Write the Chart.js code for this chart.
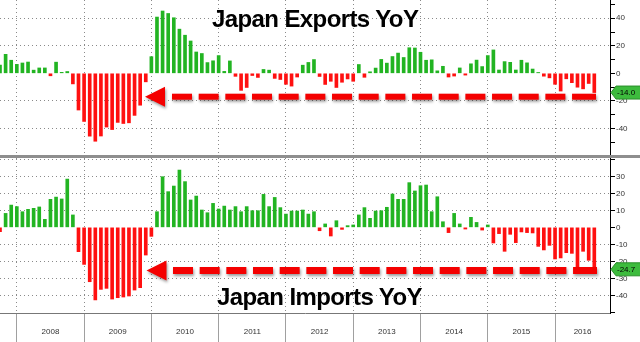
<!DOCTYPE html>
<html>
<head>
<meta charset="utf-8">
<script src="https://cdn.jsdelivr.net/npm/chart.js@4.4.1/dist/chart.umd.min.js"></script>
<style>
html, body { margin: 0; padding: 0; background: #fff; }
#wrap { position: relative; width: 640px; height: 342px; overflow: hidden; background: #fff; }
#topChart { position: absolute; left: 0; top: 0; }
#sep { position: absolute; left: 0; top: 155px; width: 640px; height: 3px; background: #8e8e8e; }
#botChart { position: absolute; left: 0; top: 158px; }
.title { position: absolute; font-family: "Liberation Sans", Arial, sans-serif; font-weight: bold;
         font-size: 24px; letter-spacing: -0.6px; color: #000; white-space: nowrap; line-height: 1; }
</style>
</head>
<body>
<div id="wrap">
  <canvas id="topChart" width="640" height="155"></canvas>
  <div id="sep"></div>
  <canvas id="botChart" width="640" height="184"></canvas>
  <div class="title" style="left:212px; top:7px;">Japan Exports YoY</div>
  <div class="title" style="left:217px; top:285px;">Japan Imports YoY</div>
</div>
<script>
// 月度数据：从 2007-09 开始，到 2016-07 结束（同比 %）
const exportsYoY = [
  6.0, 13.8, 9.5, 6.5,
  7.5, 8.2, 2.3, 3.9, 3.9, -1.8, 8.1, 0.7, 1.3, -7.7, -26.7, -35.0,
  -45.7, -49.4, -45.6, -39.1, -40.9, -35.7, -36.5, -36.0, -30.6, -23.2, -6.2, 12.1,
  40.9, 45.3, 43.5, 40.4, 32.1, 27.7, 23.5, 15.5, 14.4, 7.8, 9.1, 12.9,
  1.4, 9.0, -2.2, -12.4, -10.3, -1.6, -3.0, 2.8, 2.3, -3.7, -4.5, -8.0,
  -9.3, -2.7, 5.9, 7.9, 10.0, -2.3, -8.1, -5.8, -10.3, -6.5, -4.1, -5.8,
  6.4, -2.9, 1.1, 3.8, 10.1, 7.4, 12.2, 14.7, 11.5, 18.6, 18.4, 15.3,
  9.5, 9.8, 1.8, 5.1, -2.7, -2.0, 3.9, -1.3, 6.9, 9.6, 4.9, 12.9,
  17.0, 2.4, 8.5, 8.0, 2.4, 9.5, 7.6, 3.1, 0.6, -2.1, -3.3, -8.0,
  -12.9, -4.0, -6.8, -10.1, -11.3, -7.4, -14.0
];
const importsYoY = [
  -2.5, 8.2, 13.1, 12.2,
  9.2, 10.6, 11.2, 12.0, 4.7, 16.5, 17.8, 16.7, 28.4, 7.3, -14.3, -21.8,
  -32.0, -42.7, -36.5, -35.9, -42.2, -41.4, -41.0, -40.4, -36.9, -35.5, -16.3, -5.3,
  9.2, 29.8, 21.0, 24.3, 33.7, 26.9, 16.1, 18.4, 10.2, 8.6, 14.1, 10.8,
  12.5, 10.2, 12.2, 9.2, 12.2, 9.8, 9.8, 19.4, 12.2, 17.6, 11.6, 7.8,
  9.6, 9.6, 10.2, 7.8, 9.2, -2.0, 2.0, -5.1, 3.9, -1.2, 1.0, 1.4,
  7.3, 11.6, 5.3, 9.6, 9.8, 11.8, 19.6, 16.5, 16.5, 26.3, 21.4, 24.5,
  24.9, 9.2, 18.0, 3.3, -3.1, 8.2, 2.0, -1.0, 5.9, 2.9, -1.6, 1.4,
  -9.2, -3.7, -14.1, -4.1, -9.0, -2.7, -3.1, -3.3, -11.2, -13.3, -10.6, -18.6,
  -18.0, -14.9, -15.3, -23.3, -14.1, -19.4, -24.7
];
const years = ['2008', '2009', '2010', '2011', '2012', '2013', '2014', '2015', '2016'];
const yearEdges = [3, 15, 27, 39, 51, 63, 75, 87, 99];   // 每年1月前的月末位置

// 右侧坐标轴刻度
const topTicks = [-50, -40, -30, -20, -10, 0, 10, 20, 30, 40, 50];
const topLabels = [-40, -20, 0, 20, 40];
const topGrid = [-40, -20, 20, 40];
const botTicks = [-50, -45, -40, -35, -30, -25, -20, -15, -10, -5, 0, 5, 10, 15, 20, 25, 30, 35, 40];
const botLabels = [-40, -30, -20, -10, 0, 10, 20, 30];
const botGrid = [-40, -30, -20, -10, 10, 20, 30, 40];

const X_MAX = 108.8;
const GREEN = '#22b422';
const RED = '#ff1010';
const FONT = '"Liberation Sans", Arial, sans-serif';
const yearMids = yearEdges.map((e, i) => i < yearEdges.length - 1 ? e + 6 : (e + X_MAX) / 2);

function toPoints(arr) {
    return arr.map((v, i) => ({ x: i, y: v }));
}

// 红色虚线箭头 + 最新值绿色标签
function panelDecor(opts) {
    return {
        id: 'panelDecor',
        afterDraw(chart) {
            const ctx = chart.ctx;
            const yScale = chart.scales.y;
            ctx.save();
            ctx.shadowColor = 'rgba(0,0,0,0.4)';
            ctx.shadowBlur = 3;
            ctx.shadowOffsetX = 1;
            ctx.shadowOffsetY = 2;
            ctx.fillStyle = '#f40000';
            const y = opts.arrowY;
            for (let x = opts.dashStart; x < opts.dashEnd; x += 26.67) {
                const w = (x + 26.67 >= opts.dashEnd) ? opts.dashEnd - x : 20;
                ctx.fillRect(x, y - opts.thick / 2, w, opts.thick);
            }
            ctx.beginPath();
            ctx.moveTo(opts.tipX, y);
            ctx.lineTo(opts.tipX + 20, y - 10);
            ctx.lineTo(opts.tipX + 20, y + 10);
            ctx.closePath();
            ctx.fill();
            ctx.restore();

            // 最新值标签
            const ty = yScale.getPixelForValue(opts.last);
            ctx.save();
            ctx.fillStyle = '#3dbb3d';
            ctx.strokeStyle = '#2a8f2a';
            ctx.beginPath();
            ctx.moveTo(611, ty);
            ctx.lineTo(616, ty - 6.5);
            ctx.lineTo(641, ty - 6.5);
            ctx.lineTo(641, ty + 6.5);
            ctx.lineTo(616, ty + 6.5);
            ctx.closePath();
            ctx.fill();
            ctx.stroke();
            ctx.fillStyle = '#000';
            ctx.font = '8px ' + FONT;
            ctx.textBaseline = 'middle';
            ctx.textAlign = 'left';
            ctx.fillText(opts.last.toFixed(1), 617, ty + 0.5);
            ctx.restore();
        }
    };
}

function makeChart(canvasId, values, yMin, yMax, ticks, labels, grid, showX, decor) {
    const xScale = {
        type: 'linear', min: 0, max: X_MAX, offset: false,
        afterBuildTicks: s => {
            const v = showX ? yearEdges.concat(yearMids) : yearEdges.slice();
            v.sort((a, b) => a - b);
            s.ticks = v.map(t => ({ value: t }));
        },
        afterFit: s => {
            s.height = showX ? 29 : 0;
            s.paddingLeft = 0;
            s.paddingRight = 0;
        },
        grid: {
            offset: false,
            drawTicks: showX,
            tickLength: 29,
            color: c => yearEdges.includes(c.tick.value) ? '#8a8a8a' : 'rgba(0,0,0,0)',
            tickColor: c => yearEdges.includes(c.tick.value) ? '#a0a0a0' : 'rgba(0,0,0,0)'
        },
        border: { display: showX, color: '#777', dash: [1, 3] },
        ticks: {
            display: showX, autoSkip: false, maxRotation: 0, minRotation: 0, padding: -15,
            color: '#333', font: { size: 8, family: FONT },
            callback: v => {
                const i = yearMids.indexOf(v);
                return i >= 0 ? years[i] : '';
            }
        }
    };
    return new Chart(document.getElementById(canvasId), {
        type: 'bar',
        data: {
            datasets: [{
                data: toPoints(values),
                backgroundColor: c => (c.raw && c.raw.y < 0) ? RED : GREEN,
                barThickness: 3,
                borderWidth: 0
            }]
        },
        options: {
            responsive: false,
            animation: false,
            layout: { padding: 0 },
            plugins: { legend: { display: false }, tooltip: { enabled: false } },
            scales: {
                x: xScale,
                y: {
                    position: 'right', min: yMin, max: yMax,
                    afterBuildTicks: s => { s.ticks = ticks.map(t => ({ value: t })); },
                    afterFit: s => { s.width = 30; s.paddingTop = 0; s.paddingBottom = 0; },
                    grid: {
                        color: c => grid.includes(c.tick.value) ? '#8a8a8a' : 'rgba(0,0,0,0)',
                        tickColor: '#000',
                        tickLength: 5
                    },
                    border: { color: '#000', dash: [1, 3] },
                    ticks: {
                        padding: 1, color: '#333', font: { size: 8, family: FONT },
                        callback: v => labels.includes(v) ? String(v) : ''
                    }
                }
            }
        },
        plugins: [panelDecor(decor)]
    });
}

makeChart('topChart', exportsYoY, -59.4, 53.3, topTicks, topLabels, topGrid, false,
    { arrowY: 96.7, thick: 6, tipX: 145, dashStart: 172, dashEnd: 596, last: exportsYoY[exportsYoY.length - 1] });
makeChart('botChart', importsYoY, -50.4, 40.8, botTicks, botLabels, botGrid, true,
    { arrowY: 112.5, thick: 7, tipX: 146.5, dashStart: 173, dashEnd: 597, last: importsYoY[importsYoY.length - 1] });
</script>
</body>
</html>
